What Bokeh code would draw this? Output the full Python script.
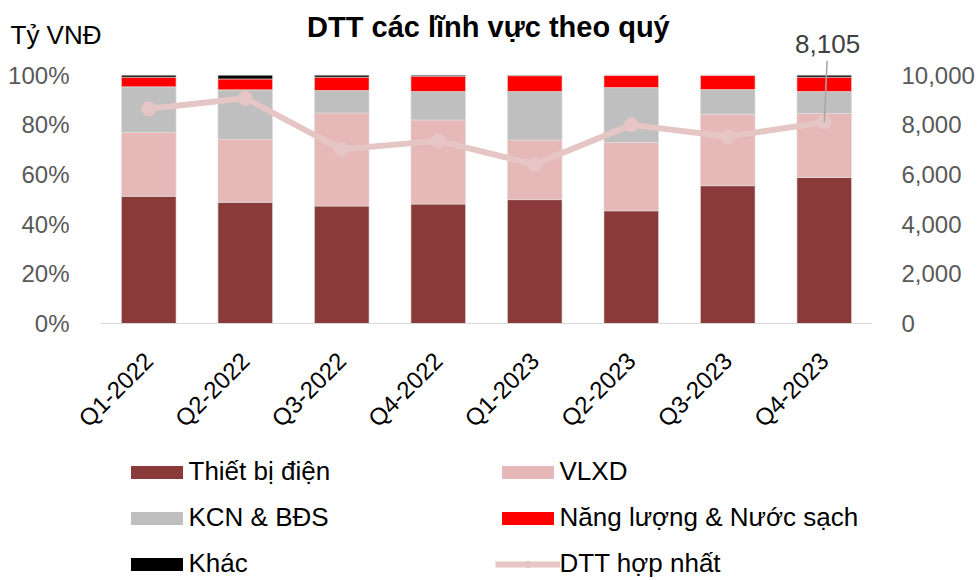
import math
from bokeh.plotting import figure
from bokeh.layouts import column
from bokeh.core.properties import value
from bokeh.models import (FactorRange, Range1d, LinearAxis, FixedTicker, PrintfTickFormatter,
                          NumeralTickFormatter, Legend, LegendItem, ColumnDataSource)
from bokeh.embed import file_html
from bokeh.resources import INLINE

# ---------------- data ----------------
quarters = ["Q1-2022", "Q2-2022", "Q3-2022", "Q4-2022",
            "Q1-2023", "Q2-2023", "Q3-2023", "Q4-2023"]
thiet_bi_dien = [51.2, 48.8, 47.3, 48.1, 49.9, 45.4, 55.5, 58.8]
vlxd = [25.7, 25.4, 37.5, 33.9, 24.0, 27.5, 28.8, 25.8]
kcn_bds = [18.4, 19.9, 9.0, 11.4, 19.5, 22.1, 9.9, 8.8]
nang_luong = [3.9, 4.4, 5.4, 6.2, 6.4, 5.0, 5.8, 5.8]
khac = [0.8, 1.5, 0.8, 0.4, 0.2, 0.0, 0.0, 0.8]
dtt_hop_nhat = [8645, 9073, 7016, 7355, 6411, 8000, 7528, 8105]

series_names = ["Thiết bị điện", "VLXD", "KCN & BĐS", "Năng lượng & Nước sạch", "Khác"]
line_name = "DTT hợp nhất"
title_text = "DTT các lĩnh vực theo quý"
unit_text = "Tỷ VNĐ"
left_ticks = [0, 20, 40, 60, 80, 100]
right_ticks = [0, 2000, 4000, 6000, 8000, 10000]

colors = ["#8B3A3A", "#E6B9B8", "#BFBFBF", "#FF0000", "#000000"]
line_color = "#E6C5C5"
FONT = "Liberation Sans"

# ---------------- geometry ----------------
W = 978
LEFT, FRAME_W = 100, 772
HEADER_H = 60
FRAME_H = 263
MAIN_BOTTOM = 122
LEGEND_H = 134
PX_PER_CAT = FRAME_W / len(quarters)

keys = ["tb", "vlxd", "kcn", "nl", "khac"]
src = ColumnDataSource(dict(q=quarters, tb=thiet_bi_dien, vlxd=vlxd, kcn=kcn_bds,
                            nl=nang_luong, khac=khac, dtt=dtt_hop_nhat))

# ---------------- header ----------------
hx0 = -LEFT / PX_PER_CAT
hx1 = (W - LEFT) / PX_PER_CAT
header = figure(width=W, height=HEADER_H, x_range=Range1d(hx0, hx1), y_range=Range1d(0, HEADER_H),
                min_border=0, x_axis_location=None, y_axis_location=None,
                output_backend="svg", toolbar_location=None)
header.frame_align = False
header.grid.visible = False
header.outline_line_color = None
header.text(x=[4.02], y=[34], text=[title_text], text_align="center", text_baseline="middle",
            text_font=value(FONT), text_font_size="29px", text_font_style="bold",
            text_color="#000000")
header.text(x=[hx0 + 10 / PX_PER_CAT], y=[26], text=[unit_text], text_align="left",
            text_baseline="middle", text_font=value(FONT), text_font_size="26px",
            text_color="#000000")
last_x = len(quarters) - 0.5
header.text(x=[last_x + 0.035], y=[17], text=[f"{dtt_hop_nhat[-1]:,}"], text_align="center",
            text_baseline="middle", text_font=value(FONT), text_font_size="26px",
            text_color="#404040")

# ---------------- main ----------------
ytop = FRAME_H / 248.3 * 100
p = figure(x_range=FactorRange(*quarters), y_range=Range1d(0, ytop),
           frame_width=FRAME_W, frame_height=FRAME_H,
           min_border_left=LEFT, min_border_right=W - LEFT - FRAME_W,
           min_border_top=0, min_border_bottom=MAIN_BOTTOM,
           output_backend="svg", toolbar_location=None)
p.extra_y_ranges = {"dtt": Range1d(0, ytop * 100)}

p.vbar_stack(keys, x="q", width=0.566, source=src, color=colors,
             line_color="#E0E0E0", line_width=0.6)
p.line(x="q", y="dtt", source=src, y_range_name="dtt", line_width=6, color=line_color)
p.scatter(x="q", y="dtt", source=src, y_range_name="dtt", size=14,
          fill_color=line_color, line_color=line_color)

# leader line for the last data label
p.segment(x0=[last_x + 0.03], y0=[ytop * 100], x1=[last_x], y1=[dtt_hop_nhat[-1]],
          y_range_name="dtt", line_color="#A6A6A6", line_width=1.5)

p.xaxis.axis_line_color = "#D9D9D9"
p.xaxis.major_tick_line_color = None
p.xaxis.minor_tick_line_color = None
p.xaxis.major_label_orientation = math.pi / 4
p.xaxis.major_label_text_font = FONT
p.xaxis.major_label_text_font_size = "24px"
p.xaxis.major_label_text_color = "#000000"
p.xaxis.major_label_standoff = 27

p.yaxis.ticker = FixedTicker(ticks=left_ticks)
p.yaxis.formatter = PrintfTickFormatter(format="%d%%")
p.yaxis.axis_line_color = None
p.yaxis.major_tick_line_color = None
p.yaxis.minor_tick_line_color = None
p.yaxis.major_label_text_font = FONT
p.yaxis.major_label_text_font_size = "24px"
p.yaxis.major_label_text_color = "#595959"
p.yaxis.major_label_standoff = 25

ra = LinearAxis(y_range_name="dtt", ticker=FixedTicker(ticks=right_ticks),
                formatter=NumeralTickFormatter(format="0,0"))
ra.axis_line_color = None
ra.major_tick_line_color = None
ra.minor_tick_line_color = None
ra.major_label_text_font = FONT
ra.major_label_text_font_size = "24px"
ra.major_label_text_color = "#595959"
ra.major_label_standoff = 23
p.add_layout(ra, "right")

p.xgrid.visible = False
p.ygrid.visible = False
p.outline_line_color = None

# ---------------- legend (proxy renderers kept far outside the visible range) ----------------
lg = figure(width=W, height=LEGEND_H, x_range=FactorRange(*quarters),
            y_range=Range1d(20000, 40000),
            min_border=0, x_axis_location=None, y_axis_location=None,
            output_backend="svg", toolbar_location=None)
lg.frame_align = False
lg.grid.visible = False
lg.outline_line_color = None

proxies = lg.vbar_stack(keys, x="q", width=0.5, source=src, color=colors, line_color=None)
pl = lg.line(x="q", y="dtt", source=src, line_width=6, color=line_color)
ps = lg.scatter(x="q", y="dtt", source=src, size=13, fill_color=line_color, line_color=line_color)


def make_legend(items, xloc):
    return Legend(items=items, location=(xloc, 0), orientation="vertical",
                  label_text_font=FONT, label_text_font_size="26px", label_text_color="#000000",
                  glyph_width=65, glyph_height=16, label_height=30, label_standoff=0,
                  spacing=15, padding=0, margin=0, border_line_alpha=0,
                  background_fill_alpha=0)


col1 = [LegendItem(label=series_names[0], renderers=[proxies[0]]),
        LegendItem(label=series_names[2], renderers=[proxies[2]]),
        LegendItem(label=series_names[4], renderers=[proxies[4]])]
col2 = [LegendItem(label=series_names[1], renderers=[proxies[1]]),
        LegendItem(label=series_names[3], renderers=[proxies[3]]),
        LegendItem(label=line_name, renderers=[pl, ps])]
lg.add_layout(make_legend(col1, 123.5), "center")
lg.add_layout(make_legend(col2, 494.5), "center")

layout = column(header, p, lg, spacing=0)
open("out.html", "w").write(file_html(layout, INLINE))
